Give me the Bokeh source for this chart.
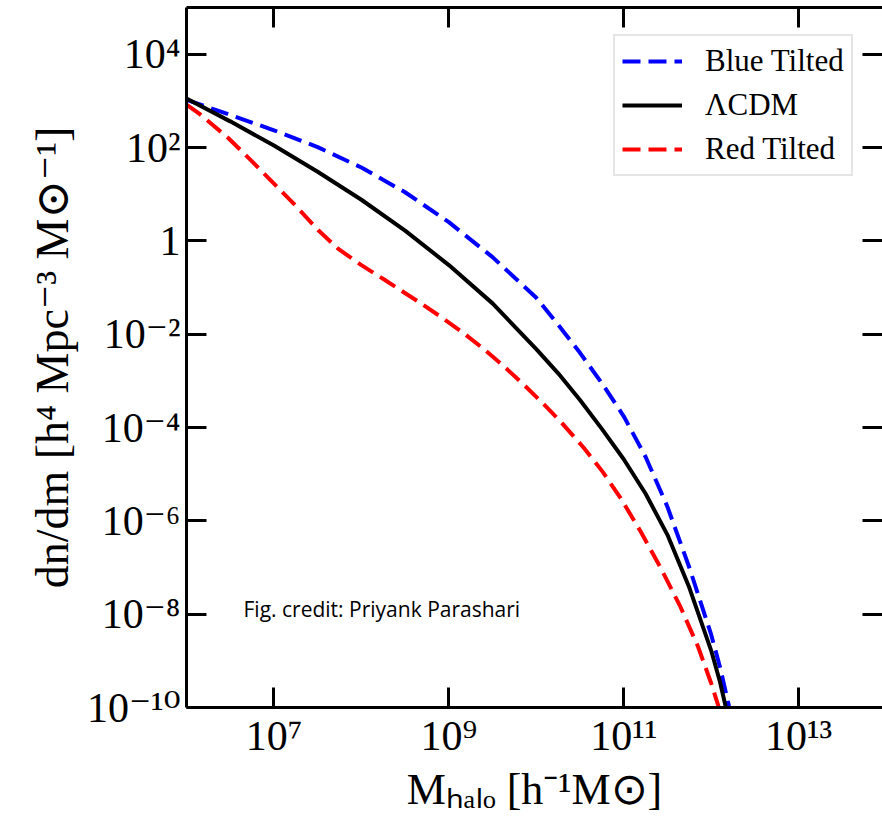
from bokeh.plotting import figure
from bokeh.models import (LogAxis, FixedTicker, CustomJSTickFormatter, Legend,
                          LegendItem, Label, Range1d)
from bokeh.embed import file_html
from bokeh.resources import INLINE

# ---- data (halo mass function dn/dm) ----
mass_lcdm = [1.0e6, 3.16e6, 1.0e7, 3.16e7, 1.0e8, 3.16e8, 1.0e9, 3.16e9, 1.0e10,
             1.78e10, 3.16e10, 5.62e10, 1.0e11, 1.78e11, 3.16e11, 5.62e11, 1.0e12,
             1.26e12, 1.58e12]
dndm_lcdm = [1122, 363, 110, 30.2, 7.59, 1.66, 0.302, 0.0457, 4.79e-3,
             1.45e-3, 3.89e-4, 9.33e-5, 2.09e-5, 3.80e-6, 5.01e-7, 3.72e-8, 1.66e-9,
             3.55e-10, 5.62e-11]

mass_blue = [1.0e6, 3.16e6, 1.0e7, 3.16e7, 1.0e8, 3.16e8, 1.0e9, 3.16e9, 1.0e10,
             1.78e10, 3.16e10, 5.62e10, 1.0e11, 1.78e11, 3.16e11, 5.62e11, 1.0e12,
             1.26e12, 1.58e12, 1.78e12]
dndm_blue = [1047, 501, 234, 102, 37.2, 11.0, 2.51, 0.447, 0.0603,
             0.0158, 3.98e-3, 8.91e-4, 1.74e-4, 2.34e-5, 2.0e-6, 1.0e-7, 3.63e-9,
             7.41e-10, 1.17e-10, 3.98e-11]

mass_red = [1.0e6, 1.41e6, 3.02e6, 5.50e6, 1.02e7, 1.82e7, 3.24e7, 5.50e7, 1.0e8,
            1.82e8, 4.37e8, 8.13e8, 1.48e9, 2.51e9, 4.27e9, 7.08e9, 1.20e10, 1.91e10,
            3.47e10, 5.75e10, 9.33e10, 1.55e11, 2.63e11, 4.47e11, 7.08e11, 1.0e12,
            1.20e12, 1.38e12]
dndm_red = [832, 525, 158, 52.5, 16.2, 5.37, 1.66, 0.661, 0.302,
            0.148, 0.0513, 0.0234, 0.0105, 4.79e-3, 2.04e-3, 8.51e-4, 3.24e-4, 1.32e-4,
            3.72e-5, 1.12e-5, 2.95e-6, 6.03e-7, 1.0e-7, 1.41e-8, 2.0e-9, 3.31e-10,
            1.12e-10, 3.98e-11]

series_labels = ["Blue Tilted", "\u039bCDM", "Red Tilted"]

x_ticks = [1e7, 1e9, 1e11, 1e13]
x_tick_labels = ["10\u2077", "10\u2079", "10\u00b9\u00b9", "10\u00b9\u00b3"]
y_ticks = [1e-10, 1e-8, 1e-6, 1e-4, 1e-2, 1, 1e2, 1e4]
y_tick_labels = ["10\u207b\u00b9\u2070", "10\u207b\u2078", "10\u207b\u2076", "10\u207b\u2074",
                 "10\u207b\u00b2", "1", "10\u00b2", "10\u2074"]

x_label = "M\u2095\u2090\u2097\u2092 [h\u207b\u00b9M\u2299]"
y_label = "dn/dm [h\u2074 Mpc\u207b\u00b3 M\u2299\u207b\u00b9]"
credit = "Fig. credit: Priyank Parashari"

SERIF = "Liberation Serif, DejaVu Serif"
SERIF_LABEL = "Liberation Serif, Noto Sans"

p = figure(width=882, height=819, x_axis_type="log", y_axis_type="log",
           x_range=Range1d(1e6, 9.1e13), y_range=Range1d(1e-10, 1e5),
           output_backend="svg", toolbar_location=None,
           min_border_left=186, min_border_right=0, min_border_top=7,
           min_border_bottom=112, background_fill_color="white",
           border_fill_color="white")
p.grid.visible = False
p.outline_line_color = None


def tick_fmt(vals, labs):
    return CustomJSTickFormatter(args=dict(vals=vals, labs=labs), code="""
        for (let i = 0; i < vals.length; i++) {
            if (Math.abs(Math.log10(vals[i]) - Math.log10(tick)) < 1e-6) return labs[i];
        }
        return "";
    """)


def style_axis(ax, ticks):
    ax.ticker = FixedTicker(ticks=ticks)
    ax.major_tick_in = 20
    ax.major_tick_out = 0
    ax.minor_tick_in = 0
    ax.minor_tick_out = 0
    ax.minor_tick_line_color = None
    ax.major_tick_line_width = 3
    ax.major_tick_line_color = "black"
    ax.axis_line_width = 3
    ax.axis_line_color = "black"


xa = p.xaxis[0]
style_axis(xa, x_ticks)
xa.formatter = tick_fmt(x_ticks, x_tick_labels)
xa.major_label_text_font = SERIF
xa.major_label_text_font_size = "42px"
xa.major_label_text_color = "black"
xa.major_label_standoff = 5
xa.axis_label = x_label
xa.axis_label_text_font = SERIF_LABEL
xa.axis_label_text_font_size = "44px"
xa.axis_label_text_font_style = "normal"
xa.axis_label_text_color = "black"
xa.axis_label_standoff = 3

ya = p.yaxis[0]
style_axis(ya, y_ticks)
ya.formatter = tick_fmt(y_ticks, y_tick_labels)
ya.major_label_text_font = SERIF
ya.major_label_text_font_size = "42px"
ya.major_label_text_color = "black"
ya.major_label_standoff = 6
ya.axis_label = y_label
ya.axis_label_text_font = SERIF
ya.axis_label_text_font_size = "46px"
ya.axis_label_text_font_style = "normal"
ya.axis_label_text_color = "black"
ya.axis_label_standoff = 6

blank = CustomJSTickFormatter(code="return '';")
top = LogAxis(formatter=blank, major_label_text_font_size="0px", major_label_standoff=0)
style_axis(top, x_ticks)
p.add_layout(top, "above")
right = LogAxis(formatter=blank, major_label_text_font_size="0px", major_label_standoff=0)
style_axis(right, y_ticks)
right.axis_line_alpha = 0
p.add_layout(right, "right")

r_blue = p.line(mass_blue, dndm_blue, line_color="#0000ff", line_width=4, line_dash="18 8")
r_lcdm = p.line(mass_lcdm, dndm_lcdm, line_color="black", line_width=4)
r_red = p.line(mass_red, dndm_red, line_color="#ff0000", line_width=4, line_dash="18 8")

legend = Legend(items=[LegendItem(label=series_labels[0], renderers=[r_blue]),
                       LegendItem(label=series_labels[1], renderers=[r_lcdm]),
                       LegendItem(label=series_labels[2], renderers=[r_red])],
                location=(427, 531))
legend.label_text_font = SERIF
legend.label_text_font_size = "31px"
legend.label_text_color = "black"
legend.glyph_width = 60
legend.glyph_height = 36
legend.label_height = 36
legend.label_standoff = 23
legend.spacing = 8
legend.padding = 7
legend.margin = 0
legend.border_line_color = "#cccccc"
legend.border_line_width = 2
legend.background_fill_color = "white"
legend.background_fill_alpha = 1
p.add_layout(legend)

p.add_layout(Label(x=57, y=99, x_units="screen", y_units="screen", text=credit,
                   text_font="Open Sans", text_font_size="21px",
                   text_baseline="middle", text_color="black"))

open("out.html", "w").write(file_html(p, INLINE))
